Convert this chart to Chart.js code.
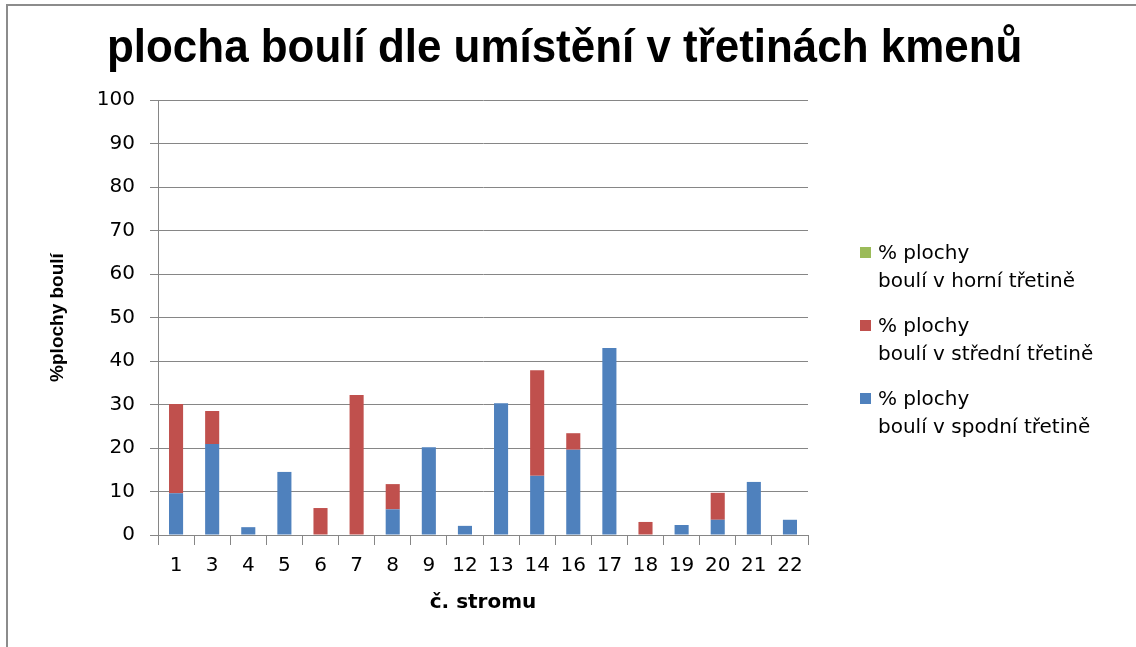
<!DOCTYPE html>
<html lang="cs">
<head>
<meta charset="utf-8">
<script src="https://cdn.jsdelivr.net/npm/chart.js@4.4.1/dist/chart.umd.min.js"></script>
<style>
  body { margin: 0; background: #fff; }
  #wrap { position: relative; width: 1136px; height: 647px; overflow: hidden; }
  #frame { position: absolute; left: 6px; top: 4px; right: 0; bottom: 0; border-top: 2px solid #8c8c8c; border-left: 2px solid #8c8c8c; pointer-events: none; }
  #title { position: absolute; left: 107px; top: 22px; margin: 0; white-space: nowrap; transform-origin: 0 0;
           font: bold 47px "Liberation Sans", Arial, sans-serif; line-height: 1; color: #000; }
  #legend { position: absolute; left: 860px; top: 238px; font: 20px "DejaVu Sans", sans-serif; color: #000; }
  .item { position: relative; padding-left: 18px; line-height: 28px; margin-bottom: 17px; white-space: nowrap; }
  .box { position: absolute; left: 0; top: 9px; width: 11px; height: 11px; }
  canvas { position: absolute; left: 0; top: 0; }
</style>
</head>
<body>
<div id="wrap">
  <canvas id="chart" width="1136" height="647"></canvas>
  <div id="frame"></div>
  <h1 id="title">plocha boulí dle umístění v třetinách kmenů</h1>
  <div id="legend"></div>
</div>
<script>
const trees = ["1", "3", "4", "5", "6", "7", "8", "9", "12", "13", "14", "16", "17", "18", "19", "20", "21", "22"];
const bottomThird = [9.6, 20.9, 1.8, 14.5, 0, 0, 5.9, 20.2, 2.1, 30.3, 13.6, 19.6, 43.0, 0, 2.3, 3.5, 12.2, 3.5];
const middleThird = [20.5, 7.6, 0, 0, 6.2, 32.2, 5.8, 0, 0, 0, 24.3, 3.8, 0, 3.0, 0, 6.2, 0, 0];
const topThird = [0, 0, 0, 0, 0, 0, 0, 0, 0, 0, 0, 0, 0, 0, 0, 0, 0, 0];
const seriesNames = [
  ["% plochy", "boulí v spodní třetině"],
  ["% plochy", "boulí v střední třetině"],
  ["% plochy", "boulí v horní třetině"]
];
const seriesColors = ["#4F81BD", "#C0504D", "#9BBB59"];
const yTicks = [0, 10, 20, 30, 40, 50, 60, 70, 80, 90, 100];

// the title in the original is squeezed sideways
const title = document.getElementById("title");
title.style.transform = "scaleX(" + (915 / title.scrollWidth) + ")";

const gridColor = "#868686";
const values = [bottomThird, middleThird, topThird];

const chart = new Chart(document.getElementById("chart"), {
  type: "bar",
  data: {
    labels: trees,
    datasets: values.map((data, i) => ({
      label: seriesNames[i].join(" "),
      data: data,
      backgroundColor: seriesColors[i],
      categoryPercentage: 1,
      barPercentage: 0.39
    }))
  },
  options: {
    responsive: false,
    animation: false,
    layout: { padding: { top: 100, right: 328, left: 0, bottom: 0 } },
    plugins: { legend: { display: false }, tooltip: { enabled: false } },
    scales: {
      x: {
        stacked: true,
        offset: true,
        afterFit: (s) => { s.height = 112; },
        grid: { drawOnChartArea: false, offset: true, tickLength: 10, color: gridColor },
        border: { color: gridColor },
        ticks: { color: "#000", padding: 9, font: { family: "DejaVu Sans", size: 20 } },
        title: { display: true, text: "č. stromu", color: "#000", padding: { top: 0, bottom: 32 },
                 font: { family: "DejaVu Sans", size: 20, weight: "bold" } }
      },
      y: {
        stacked: true,
        min: 0,
        max: 100,
        afterFit: (s) => { s.width = 158; },
        afterBuildTicks: (s) => { s.ticks = yTicks.map((v) => ({ value: v })); },
        grid: { color: gridColor, tickLength: 8 },
        border: { color: gridColor },
        ticks: { color: "#000", padding: 15, font: { family: "DejaVu Sans", size: 20 } },
        title: { display: true, text: "%plochy boulí", color: "#000", padding: { top: 46, bottom: 0 },
                 font: { family: "Liberation Sans", size: 19, weight: "bold" } }
      }
    }
  }
});

// legend in reverse order, two lines per entry
const legend = document.getElementById("legend");
for (let i = seriesNames.length - 1; i >= 0; i--) {
  const item = document.createElement("div");
  item.className = "item";
  const box = document.createElement("span");
  box.className = "box";
  box.style.background = seriesColors[i];
  item.appendChild(box);
  item.appendChild(document.createTextNode(seriesNames[i][0]));
  item.appendChild(document.createElement("br"));
  item.appendChild(document.createTextNode(seriesNames[i][1]));
  legend.appendChild(item);
}
</script>
</body>
</html>
